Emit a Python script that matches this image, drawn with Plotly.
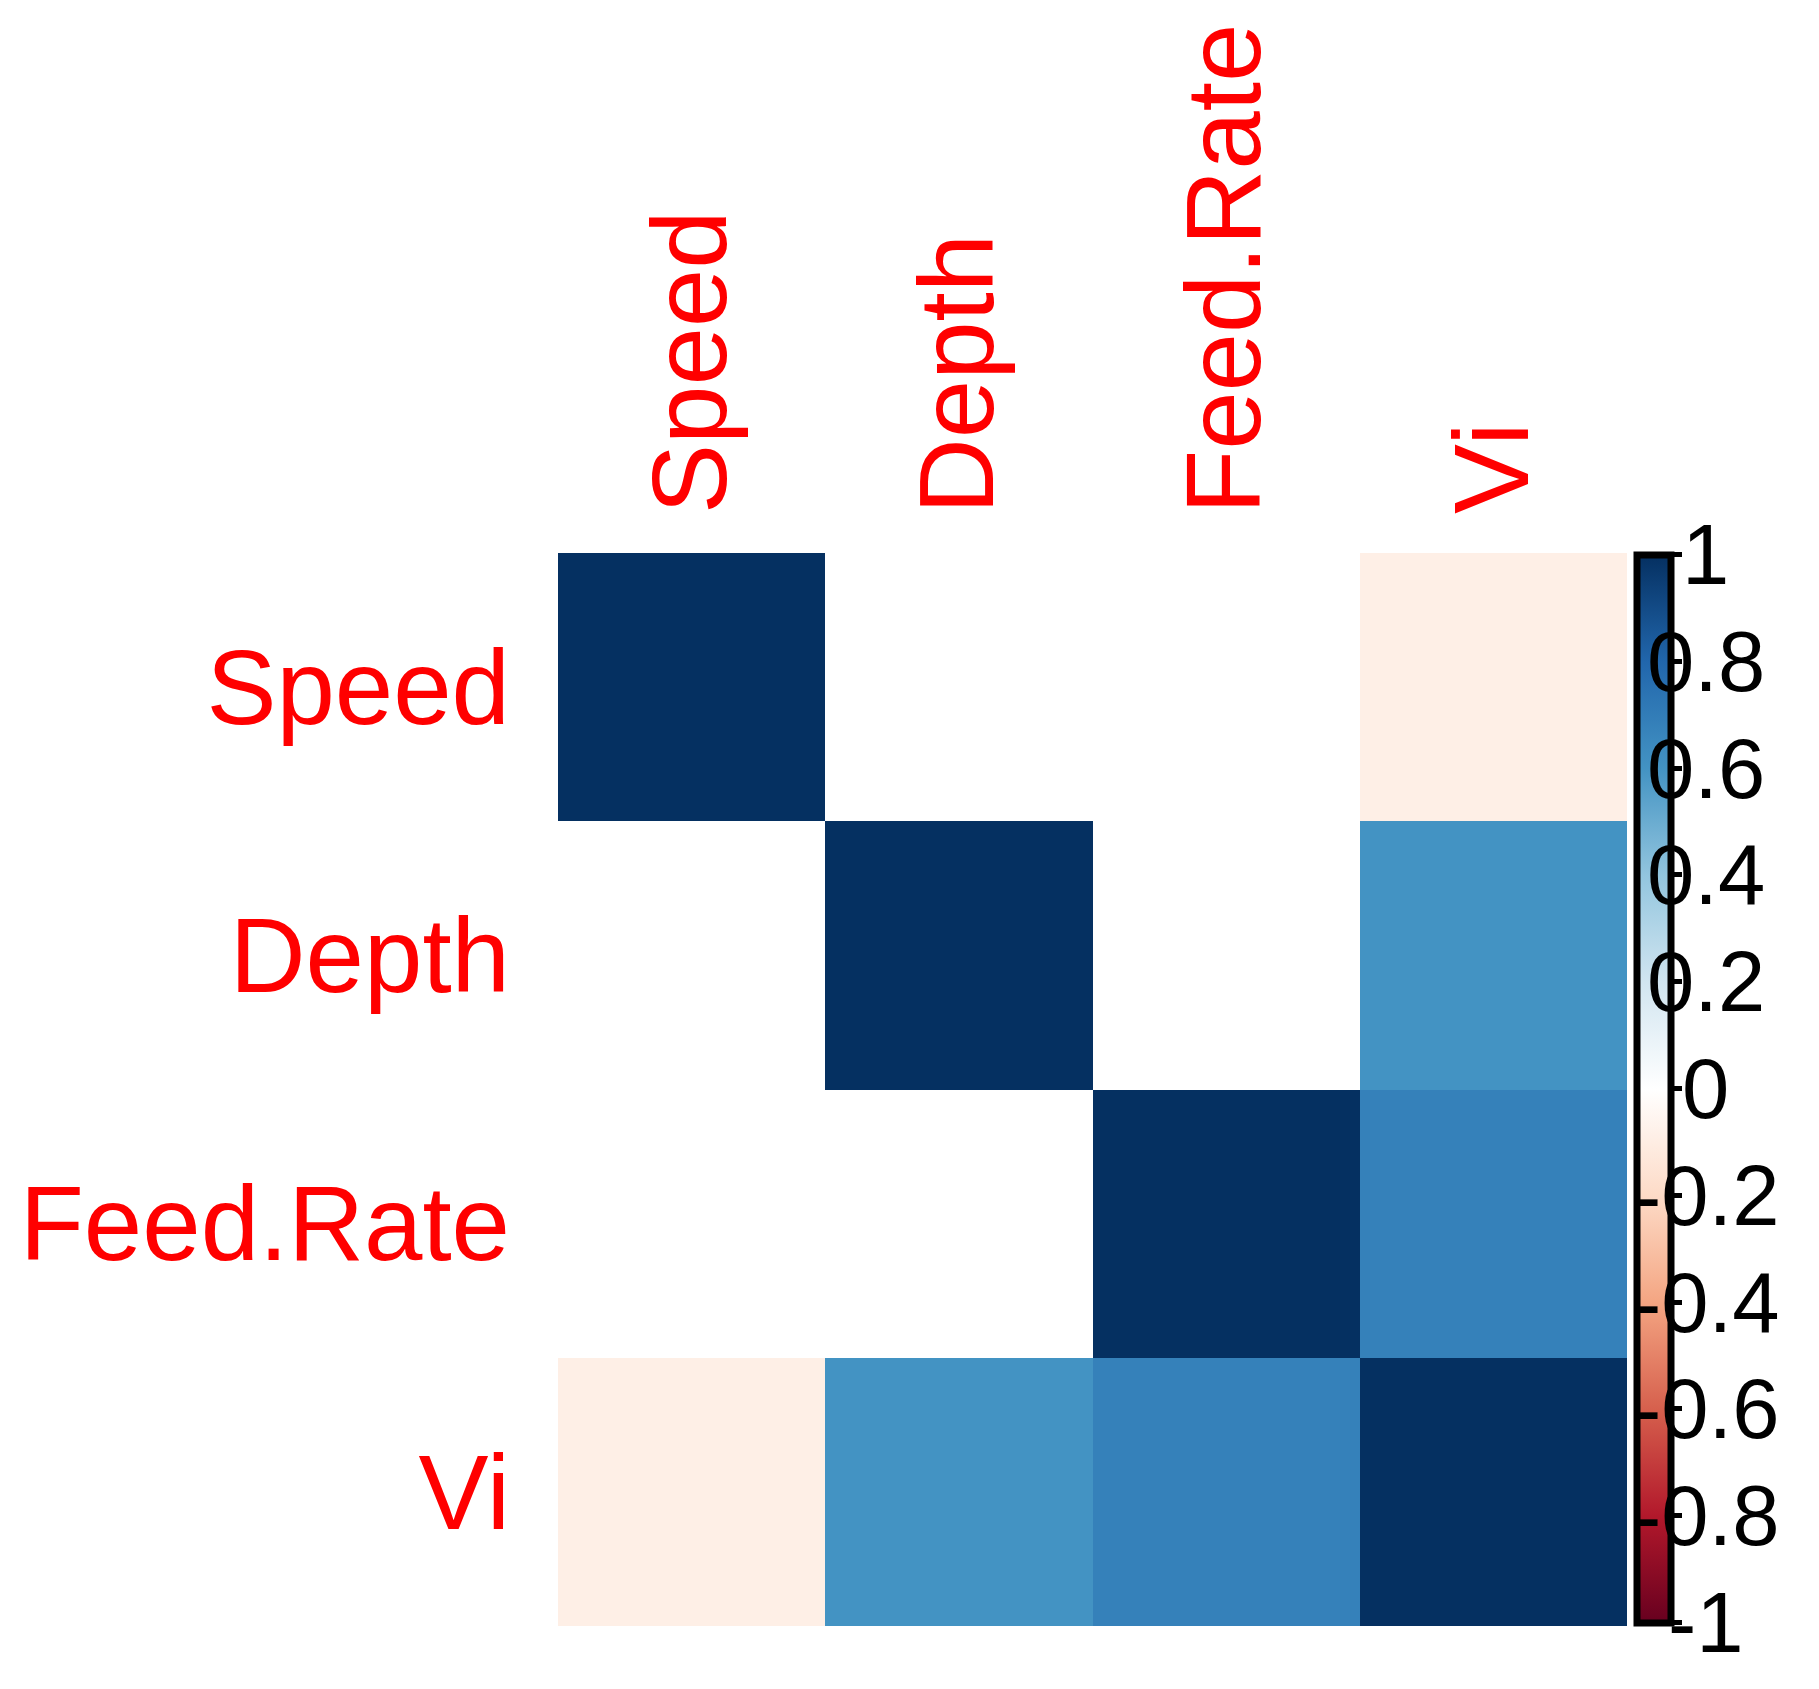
import plotly.graph_objects as go

# correlation matrix
variables = ['Speed', 'Depth', 'Feed.Rate', 'Vi']
corr = [
    [1.00, 0.00, 0.00, -0.09],
    [0.00, 1.00, 0.00, 0.60],
    [0.00, 0.00, 1.00, 0.68],
    [-0.09, 0.60, 0.68, 1.00],
]
legend_ticks = [1, 0.8, 0.6, 0.4, 0.2, 0, -0.2, -0.4, -0.6, -0.8, -1]
legend_labels = ['1', '0.8', '0.6', '0.4', '0.2', '0', '-0.2', '-0.4', '-0.6', '-0.8', '-1']

# RdBu palette as used by corrplot
rdbu = ['#67001F', '#B2182B', '#D6604D', '#F4A582', '#FDDBC7', '#FFFFFF',
        '#D1E5F0', '#92C5DE', '#4393C3', '#2166AC', '#053061']
colorscale = [[i / (len(rdbu) - 1), c] for i, c in enumerate(rdbu)]

W, H = 1819, 1689
L, R, T, B = 546, 200, 545, 71
plot_w = W - L - R
plot_h = H - T - B
bar_top, bar_bot = T + 1.5, T + 1.5 + 1068

fig = go.Figure()
fig.add_trace(go.Heatmap(
    z=corr, x=variables, y=variables,
    zmin=-1, zmax=1, colorscale=colorscale,
    hoverinfo='skip',
    colorbar=dict(
        x=(1629 - L) / plot_w, xanchor='left', xpad=0,
        y=(H - B - (bar_top + bar_bot) / 2) / plot_h, yanchor='middle', ypad=0,
        lenmode='pixels', len=1068, thickness=34,
        outlinewidth=7, outlinecolor='black',
        tickmode='array', tickvals=legend_ticks, showticklabels=False,
        ticks='outside', ticklen=8, tickwidth=5, tickcolor='black',
    ),
))

# labels of the colour legend, mapped onto the bar's span
bar_lo = (H - B - bar_bot) / plot_h
bar_hi = (H - B - bar_top) / plot_h
for v, lab in zip(legend_ticks, legend_labels):
    fig.add_annotation(
        x=(1698 - L) / plot_w, xref='paper',
        y=bar_lo + (v + 1) / 2 * (bar_hi - bar_lo), yref='paper',
        text=lab, showarrow=False, xanchor='center', yanchor='middle',
        font=dict(family='Liberation Sans', size=85, color='black'),
    )

label_font = dict(family='Liberation Sans', size=105, color='#FF0000')
fig.update_layout(
    width=W, height=H,
    margin=dict(l=L, r=R, t=T, b=B),
    paper_bgcolor='white', plot_bgcolor='white',
    xaxis=dict(side='top', tickangle=-90, tickfont=label_font,
               showgrid=False, zeroline=False, showline=False,
               ticks='', ticklabelstandoff=38),
    yaxis=dict(autorange='reversed', tickfont=label_font,
               showgrid=False, zeroline=False, showline=False,
               ticks='', ticklabelstandoff=47),
)

fig.write_html('out.html')
